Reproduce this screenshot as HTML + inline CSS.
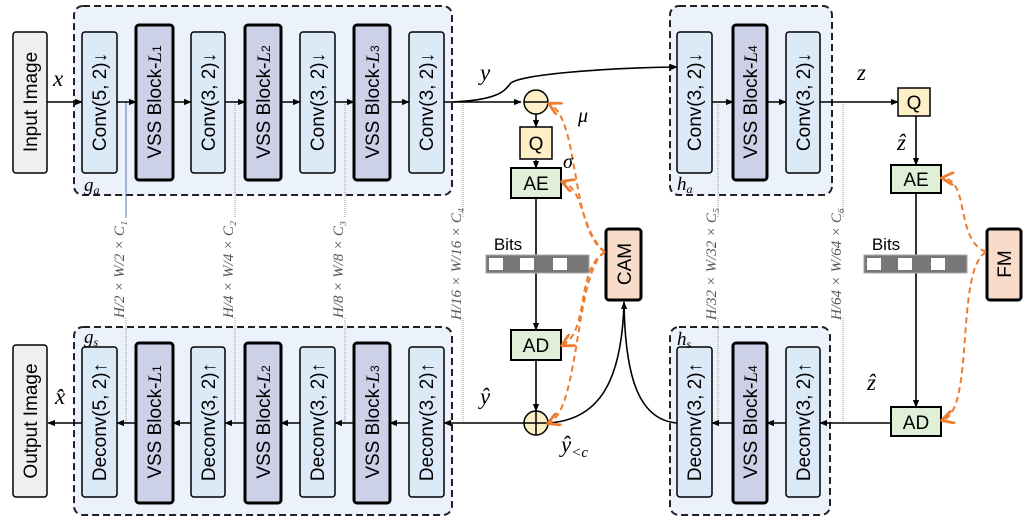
<!DOCTYPE html>
<html><head><meta charset="utf-8"><style>
body{margin:0;background:#fff}
svg{display:block;font-family:"Liberation Sans",sans-serif}
.m{font-family:"Liberation Serif",serif;font-style:italic}
</style></head><body>
<svg width="1030" height="523" viewBox="0 0 1030 523" xmlns="http://www.w3.org/2000/svg">
<defs>
<marker id="a" viewBox="0 0 10 10" refX="9" refY="5" markerWidth="5" markerHeight="5" orient="auto"><path d="M0,1 L10,5 L0,9 z" fill="#000"/></marker>
<marker id="o" viewBox="0 0 10 10" refX="8" refY="5" markerWidth="7" markerHeight="7" orient="auto"><path d="M0,0 L9,5 L0,10" fill="none" stroke="#ee7c2e" stroke-width="2"/></marker>
</defs>
<g fill="#ebf2fb" stroke="#222" stroke-width="2" stroke-dasharray="7,4">
<rect x="74" y="6" width="378" height="189" rx="9"/>
<rect x="74" y="327" width="378" height="188" rx="9"/>
<rect x="670" y="6" width="162" height="189" rx="9"/>
<rect x="670" y="327" width="160" height="188" rx="9"/>
</g>
<g stroke="#999" stroke-width="1" stroke-dasharray="1,1">
<line x1="235" y1="102" x2="235" y2="218"/><line x1="345" y1="102" x2="345" y2="218"/><line x1="463" y1="102" x2="463" y2="218"/>
<line x1="718" y1="102" x2="718" y2="218"/><line x1="843" y1="102" x2="843" y2="218"/>
<line x1="126" y1="318" x2="126" y2="423"/><line x1="235" y1="318" x2="235" y2="423"/><line x1="345" y1="318" x2="345" y2="423"/><line x1="463" y1="318" x2="463" y2="423"/>
<line x1="718" y1="318" x2="718" y2="423"/><line x1="843" y1="318" x2="843" y2="423"/>
</g>
<line x1="126" y1="102" x2="126" y2="218" stroke="#5577aa" stroke-width="1"/>
<g font-size="15" fill="#555" class="m">
<text transform="translate(124,318) rotate(-90)">H/2 × W/2 × C₁</text>
<text transform="translate(233,318) rotate(-90)">H/4 × W/4 × C₂</text>
<text transform="translate(343,318) rotate(-90)">H/8 × W/8 × C₃</text>
<text transform="translate(461,320) rotate(-90)">H/16 × W/16 × C₄</text>
<text transform="translate(716,320) rotate(-90)">H/32 × W/32 × C₅</text>
<text transform="translate(841,320) rotate(-90)">H/64 × W/64 × C₆</text>
</g>
<g stroke="#000" stroke-width="1.6" fill="none">
<line x1="47" y1="102" x2="82" y2="102" marker-end="url(#a)"/>
<line x1="117" y1="102" x2="136" y2="102" marker-end="url(#a)"/>
<line x1="173" y1="102" x2="191" y2="102" marker-end="url(#a)"/>
<line x1="225" y1="102" x2="245" y2="102" marker-end="url(#a)"/>
<line x1="281" y1="102" x2="300" y2="102" marker-end="url(#a)"/>
<line x1="335" y1="102" x2="354" y2="102" marker-end="url(#a)"/>
<line x1="390" y1="102" x2="409" y2="102" marker-end="url(#a)"/>
<line x1="444" y1="102" x2="521" y2="102" marker-end="url(#a)"/>
<path d="M452,102 C500,100 505,90 510,84 C515,75 600,68 677,67" marker-end="url(#a)"/>
<line x1="712" y1="102" x2="733" y2="102" marker-end="url(#a)"/>
<line x1="767" y1="102" x2="786" y2="102" marker-end="url(#a)"/>
<line x1="820" y1="102" x2="898" y2="102" marker-end="url(#a)"/>
<line x1="536" y1="114" x2="536" y2="127" marker-end="url(#a)"/>
<line x1="536" y1="160" x2="536" y2="168" marker-end="url(#a)"/>
<line x1="536" y1="198" x2="536" y2="330" marker-end="url(#a)"/>
<line x1="536" y1="360" x2="536" y2="411" marker-end="url(#a)"/>
<line x1="916" y1="116" x2="916" y2="165" marker-end="url(#a)"/>
<line x1="916" y1="193" x2="916" y2="407" marker-end="url(#a)"/>
<line x1="890" y1="423" x2="820" y2="423" marker-end="url(#a)"/>
<line x1="786" y1="423" x2="767" y2="423" marker-end="url(#a)"/>
<line x1="733" y1="423" x2="712" y2="423" marker-end="url(#a)"/>
<path d="M677,423 C640,420 625,380 624,302" marker-end="url(#a)"/>
<path d="M548,423 C600,420 622,380 624,302"/>
<line x1="524" y1="423" x2="444" y2="423" marker-end="url(#a)"/>
<line x1="409" y1="423" x2="390" y2="423" marker-end="url(#a)"/>
<line x1="354" y1="423" x2="335" y2="423" marker-end="url(#a)"/>
<line x1="300" y1="423" x2="281" y2="423" marker-end="url(#a)"/>
<line x1="245" y1="423" x2="225" y2="423" marker-end="url(#a)"/>
<line x1="191" y1="423" x2="173" y2="423" marker-end="url(#a)"/>
<line x1="136" y1="423" x2="117" y2="423" marker-end="url(#a)"/>
<line x1="82" y1="423" x2="48" y2="423" marker-end="url(#a)"/>
</g>
<g stroke="#000" stroke-width="1.5">
<rect x="13" y="32" width="34" height="141" rx="3" fill="#efefef"/>
<rect x="13" y="345" width="34" height="152" rx="3" fill="#efefef"/>
<g fill="#dce9f7">
<rect x="82" y="32" width="35" height="141" rx="3"/><rect x="191" y="32" width="34" height="141" rx="3"/><rect x="300" y="32" width="35" height="141" rx="3"/><rect x="409" y="32" width="35" height="141" rx="3"/>
<rect x="677" y="32" width="35" height="141" rx="3"/><rect x="786" y="32" width="34" height="141" rx="3"/>
<rect x="82" y="347" width="35" height="150" rx="3"/><rect x="191" y="347" width="34" height="150" rx="3"/><rect x="300" y="347" width="35" height="150" rx="3"/><rect x="409" y="347" width="35" height="150" rx="3"/>
<rect x="677" y="347" width="35" height="150" rx="3"/><rect x="786" y="347" width="34" height="150" rx="3"/>
</g>
<g fill="#cdd1e8" stroke-width="3">
<rect x="136" y="25" width="37" height="155" rx="3"/><rect x="245" y="25" width="36" height="155" rx="3"/><rect x="354" y="25" width="36" height="155" rx="3"/><rect x="733" y="25" width="34" height="155" rx="3"/>
<rect x="136" y="343" width="37" height="160" rx="3"/><rect x="245" y="343" width="36" height="160" rx="3"/><rect x="354" y="343" width="36" height="160" rx="3"/><rect x="733" y="343" width="34" height="160" rx="3"/>
</g>
<circle cx="536" cy="102" r="12" fill="#fdefc6"/><line x1="524" y1="102" x2="548" y2="102"/>
<circle cx="536" cy="423" r="12" fill="#fdefc6"/><line x1="524" y1="423" x2="548" y2="423"/><line x1="536" y1="411" x2="536" y2="435"/>
<rect x="520" y="127" width="32" height="32" fill="#fdefc6"/>
<rect x="898" y="88" width="32" height="28" fill="#fdefc6"/>
<g fill="#e0efd8" stroke-width="2"><rect x="511" y="168" width="50" height="30"/><rect x="511" y="330" width="50" height="30"/><rect x="891" y="165" width="50" height="28"/><rect x="891" y="407" width="50" height="29"/></g>
<g fill="#f8dcc9" stroke-width="3"><rect x="606" y="229" width="35" height="71" rx="3"/><rect x="987" y="229" width="34" height="71" rx="3"/></g>
</g>
<g><rect x="486" y="255" width="103" height="18" fill="#777" stroke="#aaa"/>
<rect x="489" y="258" width="14" height="12" fill="#fff"/><rect x="520" y="258" width="14" height="12" fill="#fff"/><rect x="553" y="258" width="14" height="12" fill="#fff"/>
<rect x="864" y="255" width="103" height="18" fill="#777" stroke="#aaa"/>
<rect x="867" y="258" width="14" height="12" fill="#fff"/><rect x="898" y="258" width="14" height="12" fill="#fff"/><rect x="931" y="258" width="14" height="12" fill="#fff"/></g>
<g stroke="#ee7c2e" stroke-width="2" fill="none" stroke-dasharray="6,4">
<path d="M605,252 C570,230 580,120 550,104" marker-end="url(#o)"/>
<path d="M605,252 C580,230 585,190 563,182" marker-end="url(#o)"/>
<path d="M605,252 C575,270 590,330 563,345" marker-end="url(#o)"/>
<path d="M605,252 C575,270 580,410 549,423" marker-end="url(#o)"/>
<path d="M986,252 C955,240 970,180 943,178" marker-end="url(#o)"/>
<path d="M986,252 C955,270 975,410 943,420" marker-end="url(#o)"/>
</g>
<g font-size="19" text-anchor="middle">
<text transform="translate(37,102) rotate(-90)">Input Image</text>
<text transform="translate(37,421) rotate(-90)">Output Image</text>
<g font-size="19">
<text transform="translate(106,102) rotate(-90)">Conv(5, 2)↓</text>
<text transform="translate(215,102) rotate(-90)">Conv(3, 2)↓</text>
<text transform="translate(324,102) rotate(-90)">Conv(3, 2)↓</text>
<text transform="translate(433,102) rotate(-90)">Conv(3, 2)↓</text>
<text transform="translate(701,102) rotate(-90)">Conv(3, 2)↓</text>
<text transform="translate(810,102) rotate(-90)">Conv(3, 2)↓</text>
<text transform="translate(161,102) rotate(-90)">VSS Block-<tspan class="m">L</tspan><tspan font-size="12">1</tspan></text>
<text transform="translate(270,102) rotate(-90)">VSS Block-<tspan class="m">L</tspan><tspan font-size="12">2</tspan></text>
<text transform="translate(379,102) rotate(-90)">VSS Block-<tspan class="m">L</tspan><tspan font-size="12">3</tspan></text>
<text transform="translate(757,102) rotate(-90)">VSS Block-<tspan class="m">L</tspan><tspan font-size="12">4</tspan></text>
<text transform="translate(106,422) rotate(-90)">Deconv(5, 2)↑</text>
<text transform="translate(215,422) rotate(-90)">Deconv(3, 2)↑</text>
<text transform="translate(324,422) rotate(-90)">Deconv(3, 2)↑</text>
<text transform="translate(433,422) rotate(-90)">Deconv(3, 2)↑</text>
<text transform="translate(701,422) rotate(-90)">Deconv(3, 2)↑</text>
<text transform="translate(810,422) rotate(-90)">Deconv(3, 2)↑</text>
<text transform="translate(161,422) rotate(-90)">VSS Block-<tspan class="m">L</tspan><tspan font-size="12">1</tspan></text>
<text transform="translate(270,422) rotate(-90)">VSS Block-<tspan class="m">L</tspan><tspan font-size="12">2</tspan></text>
<text transform="translate(379,422) rotate(-90)">VSS Block-<tspan class="m">L</tspan><tspan font-size="12">3</tspan></text>
<text transform="translate(757,422) rotate(-90)">VSS Block-<tspan class="m">L</tspan><tspan font-size="12">4</tspan></text>
</g>
<text transform="translate(631,264) rotate(-90)">CAM</text>
<text transform="translate(1011,264) rotate(-90)">FM</text>
<text x="536" y="150">Q</text><text x="914" y="109">Q</text>
<text x="536" y="190">AE</text><text x="536" y="352">AD</text>
<text x="916" y="186">AE</text><text x="916" y="429">AD</text>
<text x="508" y="250" font-size="17">Bits</text><text x="886" y="250" font-size="17">Bits</text>
</g>
<g class="m" font-size="23">
<text x="53" y="86">x</text><text x="480" y="80">y</text><text x="857" y="80">z</text>
<text x="897" y="150">ẑ</text><text x="867" y="390">ẑ</text>
<text x="480" y="404">ŷ</text><text x="55" y="404">x̂</text>
<text x="561" y="452">ŷ<tspan font-size="15" dy="5">&lt;c</tspan></text>
<text x="578" y="122" font-size="20">μ</text><text x="563" y="168" font-size="20">σ</text>
<text x="84" y="191" font-size="19">g<tspan font-size="12" dy="3">a</tspan></text>
<text x="84" y="343" font-size="19">g<tspan font-size="12" dy="3">s</tspan></text>
<text x="677" y="190" font-size="19">h<tspan font-size="12" dy="3">a</tspan></text>
<text x="677" y="345" font-size="19">h<tspan font-size="12" dy="3">s</tspan></text>
</g>
</svg>
</body></html>
